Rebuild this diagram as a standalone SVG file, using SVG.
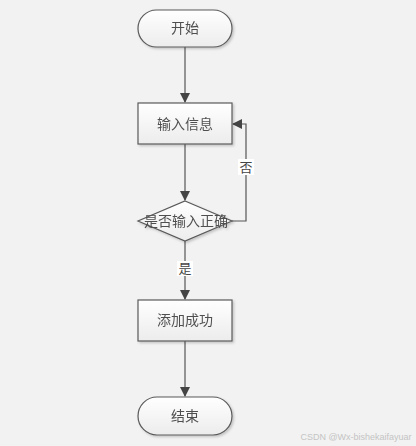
<svg xmlns="http://www.w3.org/2000/svg" width="416" height="446" viewBox="0 0 416 446">
<style>
.shape{fill:url(#g);stroke:#5a5a5a;stroke-width:1.2}
.lbl{font-family:"Liberation Serif","Noto Sans CJK SC",serif;font-size:14px;fill:#505050;text-anchor:middle;dominant-baseline:central}
.edge{fill:none;stroke:#555;stroke-width:1.2}
.el{font-family:"Liberation Serif","Noto Sans CJK SC",serif;font-size:13px;fill:#444;text-anchor:middle;dominant-baseline:central}
</style>
<defs>
<linearGradient id="g" x1="0" y1="0" x2="0" y2="1">
<stop offset="0" stop-color="#ffffff"/>
<stop offset="1" stop-color="#ececec"/>
</linearGradient>
<filter id="sh" x="-10%" y="-10%" width="130%" height="140%">
<feDropShadow dx="1.5" dy="1.5" stdDeviation="1" flood-color="#000" flood-opacity="0.2"/>
</filter>
<marker id="ar" markerWidth="10" markerHeight="10" refX="9" refY="5" orient="auto" markerUnits="userSpaceOnUse">
<path d="M0,0 L10,5 L0,10 Z" fill="#444"/>
</marker>
</defs>
<rect width="416" height="446" fill="#f2f2f2"/>
<g id="connectors">
<line class="edge" x1="185" y1="47" x2="185" y2="102" marker-end="url(#ar)"/>
<line class="edge" x1="185" y1="144" x2="185" y2="200" marker-end="url(#ar)"/>
<line class="edge" x1="185" y1="241" x2="185" y2="299" marker-end="url(#ar)"/>
<line class="edge" x1="185" y1="341" x2="185" y2="396" marker-end="url(#ar)"/>
<polyline class="edge" points="232,221 246,221 246,124 233,124" marker-end="url(#ar)"/>
<rect x="238" y="159" width="16" height="16" fill="#fff"/>
<text class="el" x="246" y="167">否</text>
<rect x="177" y="261" width="16" height="15" fill="#fff"/>
<text class="el" x="185" y="268">是</text>
</g>
<g id="start" filter="url(#sh)">
<rect class="shape" x="138" y="10" width="94" height="37" rx="18.5"/>
<text class="lbl" x="185" y="28">开始</text>
</g>
<g id="input" filter="url(#sh)">
<rect class="shape" x="138" y="103" width="94" height="41"/>
<text class="lbl" x="185" y="124">输入信息</text>
</g>
<g id="check" filter="url(#sh)">
<polygon class="shape" points="185,201 232,221 185,241 138,221"/>
<text class="lbl" x="186" y="221">是否输入正确</text>
</g>
<g id="success" filter="url(#sh)">
<rect class="shape" x="138" y="300" width="94" height="41"/>
<text class="lbl" x="185" y="320">添加成功</text>
</g>
<g id="end" filter="url(#sh)">
<rect class="shape" x="138" y="397" width="94" height="38" rx="19"/>
<text class="lbl" x="185" y="416">结束</text>
</g>
<text x="356" y="437" font-family="Liberation Sans,sans-serif" font-size="9" fill="#c4c4c4" text-anchor="middle" dominant-baseline="central">CSDN @Wx-bishekaifayuar</text>
</svg>
